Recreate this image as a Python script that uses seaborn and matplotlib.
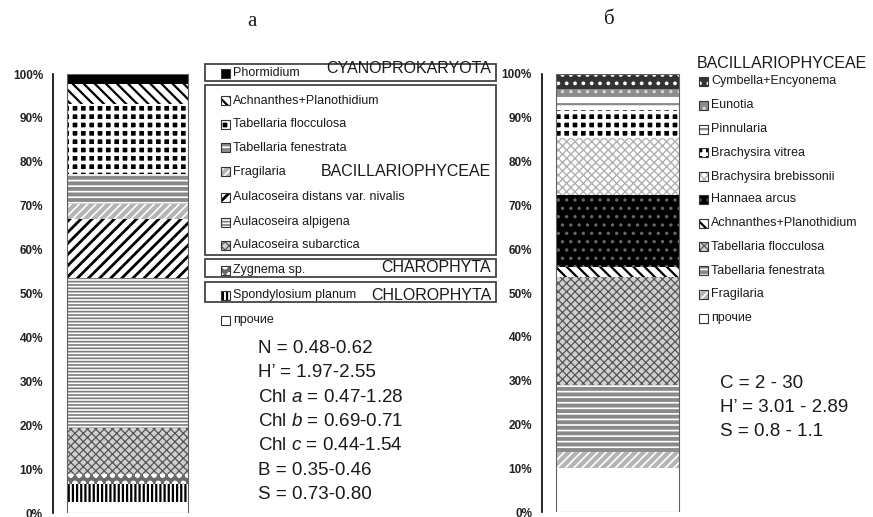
import matplotlib
matplotlib.use("Agg")
import matplotlib.pyplot as plt
import numpy as np
import seaborn as sns
from matplotlib.patches import Rectangle


# shares in %, listed from the bottom of the bar to the top
LEFT_TAXA = [
    "прочие", "Spondylosium planum", "Zygnema sp.", "Aulacoseira subarctica",
    "Aulacoseira alpigena", "Aulacoseira distans var. nivalis", "Fragilaria",
    "Tabellaria fenestrata", "Tabellaria flocculosa", "Achnanthes+Planothidium",
    "Phormidium",
]
LEFT_SHARES = [2.6, 4.0, 2.4, 10.4, 34.1, 13.5, 3.5, 6.7, 16.0, 4.5, 2.3]

RIGHT_TAXA = [
    "прочие", "Fragilaria", "Tabellaria fenestrata", "Tabellaria flocculosa",
    "Achnanthes+Planothidium", "Hannaea arcus", "Brachysira brebissonii",
    "Brachysira vitrea", "Pinnularia", "Eunotia", "Cymbella+Encyonema",
]
RIGHT_SHARES = [10.0, 3.8, 15.2, 24.6, 2.4, 16.4, 12.9, 6.6, 3.1, 1.5, 3.5]

LEFT_GROUPS = ["CYANOPROKARYOTA", "BACILLARIOPHYCEAE", "CHAROPHYTA", "CHLOROPHYTA"]
RIGHT_GROUP = "BACILLARIOPHYCEAE"

LEFT_STATS = [
    "N = 0.48-0.62", "H\u2019 = 1.97-2.55", "Chl $a$ = 0.47-1.28",
    "Chl $b$ = 0.69-0.71", "Chl $c$ = 0.44-1.54", "B = 0.35-0.46", "S = 0.73-0.80",
]
RIGHT_STATS = ["C = 2 - 30", "H\u2019 = 3.01 - 2.89", "S = 0.8 - 1.1"]

YTICKS = list(range(0, 101, 10))

# facecolor, hatch, hatch colour, hatch linewidth
STYLES = {
    "прочие": ("white", None, "white", 1.0),
    "Phormidium": ("black", None, "black", 1.0),
    "Achnanthes+Planothidium": ("white", "\\\\\\", "black", 1.6),
    "Tabellaria flocculosa": ("black", "++", "white", 2.6),
    "Tabellaria fenestrata": ("#8a8a8a", "---", "white", 1.2),
    "Fragilaria": ("#b5b5b5", "////", "white", 1.2),
    "Aulacoseira distans var. nivalis": ("white", "///", "black", 2.0),
    "Aulacoseira alpigena": ("white", "-----", "#7a7a7a", 1.2),
    "Aulacoseira subarctica": ("#d0d0d0", "xxxx", "#555555", 0.9),
    "Zygnema sp.": ("#6a6a6a", "oo", "white", 1.4),
    "Spondylosium planum": ("white", "||||", "black", 1.6),
    "Cymbella+Encyonema": ("#333333", "..", "white", 1.5),
    "Eunotia": ("#8c8c8c", "..", "#d5d5d5", 1.2),
    "Pinnularia": ("white", "--", "#8a8a8a", 1.6),
    "Brachysira vitrea": ("black", "++", "white", 2.6),
    "Brachysira brebissonii": ("white", "xxxx", "#b0b0b0", 1.0),
    "Hannaea arcus": ("black", "..", "#666666", 1.2),
}
RIGHT_STYLES = dict(STYLES)
RIGHT_STYLES["Tabellaria flocculosa"] = ("#d0d0d0", "xxxx", "#555555", 0.9)

W, H = 873, 517
FONT = "Liberation Sans"


def style_patch(patch, style):
    face, hatch, hcolor, hlw = style
    patch.set_facecolor(face)
    patch.set_edgecolor(hcolor)
    patch.set_linewidth(0)
    if hatch:
        patch.set_hatch(hatch)
        if hasattr(patch, "set_hatch_linewidth"):
            patch.set_hatch_linewidth(hlw)


def draw_stack(ax, taxa, shares, styles):
    tops = np.cumsum(shares)
    # draw cumulative bars from the tallest down so each segment shows
    for i in range(len(taxa) - 1, -1, -1):
        sns.barplot(x=["a"], y=[tops[i]], ax=ax, width=0.8, saturation=1,
                    color="white")
        style_patch(ax.patches[-1], styles[taxa[i]])
    sns.barplot(x=["a"], y=[tops[-1]], ax=ax, width=0.8, fill=False,
                color="#606060", linewidth=0.8)


def setup_axis(ax, spine_px, bar_left, bar_right):
    per_unit = (bar_right - bar_left) / 0.8
    ax.set_xlim(-0.4 - (bar_left - spine_px) / per_unit, 0.4 + 2 / per_unit)
    ax.set_ylim(0, 100)
    ax.set_yticks(YTICKS)
    ax.set_yticklabels([f"{t}%" for t in YTICKS], fontsize=8.5,
                       fontweight="bold", family=FONT, color="#222222")
    ax.set_xticks([])
    ax.set_xlabel("")
    ax.set_ylabel("")
    for side in ["top", "right", "bottom"]:
        ax.spines[side].set_visible(False)
    ax.spines["left"].set_linewidth(1.2)
    ax.spines["left"].set_color("black")
    ax.tick_params(axis="y", direction="out", length=3, width=1.0, pad=4.2,
                   color="black")
    ax.set_facecolor("none")


def legend_item(ov, x, y, name, styles):
    sq = Rectangle((x, y - 4.5), 9, 9, linewidth=0)
    ov.add_patch(sq)
    style_patch(sq, styles[name])
    ov.add_patch(Rectangle((x, y - 4.5), 9, 9, fill=False,
                           edgecolor="#333333", linewidth=0.8))
    ov.text(x + 12, y, name, fontsize=9, family=FONT, va="center",
            ha="left", color="#1a1a1a")


sns.set_theme(style="white")
plt.rcParams["mathtext.fontset"] = "custom"
plt.rcParams["mathtext.rm"] = "Liberation Sans"
plt.rcParams["mathtext.it"] = "Liberation Sans:italic"
plt.rcParams["hatch.linewidth"] = 1.2

fig = plt.figure(figsize=(W / 100, H / 100), dpi=100)
fig.patch.set_facecolor("white")

ax1 = fig.add_axes([53 / W, 3.7 / H, 137 / W, (443 - 3.7) / H])
draw_stack(ax1, LEFT_TAXA, LEFT_SHARES, STYLES)
setup_axis(ax1, 53, 67, 188)

ax2 = fig.add_axes([542 / W, 4.7 / H, 139 / W, (443 - 4.7) / H])
draw_stack(ax2, RIGHT_TAXA, RIGHT_SHARES, RIGHT_STYLES)
setup_axis(ax2, 542, 556, 679)

# overlay in pixel coordinates for legends and notes
ov = fig.add_axes([0, 0, 1, 1])
ov.set_xlim(0, W)
ov.set_ylim(H, 0)
ov.axis("off")
ov.set_facecolor("none")

ov.text(252, 22, "а", fontsize=15, family="Liberation Serif", ha="center",
        va="center", color="#1a1a1a")
ov.text(609, 20, "б", fontsize=15, family="Liberation Serif", ha="center",
        va="center", color="#1a1a1a")

# left legend: group boxes
for y0, y1 in [(64, 81), (85, 255), (259, 277), (282, 302)]:
    ov.add_patch(Rectangle((205, y0), 291, y1 - y0, fill=False,
                           edgecolor="#444444", linewidth=1.3))
for label, yb in zip(LEFT_GROUPS, [73.3, 176.5, 271.5, 300]):
    ov.text(491, yb, label, fontsize=11.5, family=FONT, ha="right",
            va="baseline", color="#1a1a1a")

left_rows = [73.5, 100.7, 124, 147.7, 171.7, 197.3, 222.3, 245, 270, 295, 320]
for name, y in zip(LEFT_TAXA[::-1], left_rows):
    legend_item(ov, 221, y, name, STYLES)

# right legend
ov.text(697, 68.3, RIGHT_GROUP, fontsize=11.5, family=FONT, ha="left",
        va="baseline", color="#1a1a1a")
right_rows = [81, 105, 129, 152.7, 176.7, 199.3, 223.3, 246.7, 270.7, 294.3, 318.3]
for name, y in zip(RIGHT_TAXA[::-1], right_rows):
    legend_item(ov, 699, y, name, RIGHT_STYLES)

for i, line in enumerate(LEFT_STATS):
    ov.text(258, 348.3 + 24.4 * i, line, fontsize=13.5, family=FONT,
            ha="left", va="center", color="#1a1a1a")
for i, line in enumerate(RIGHT_STATS):
    ov.text(720, 383.3 + 24.2 * i, line, fontsize=13.5, family=FONT,
            ha="left", va="center", color="#1a1a1a")

fig.savefig("out.png", dpi=100)
